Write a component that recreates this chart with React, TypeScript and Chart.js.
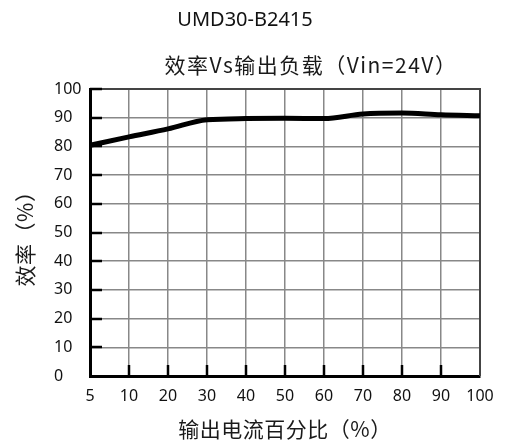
import React, { useEffect, useRef } from 'react';
import { Chart, registerables } from 'chart.js';

Chart.register(...registerables);

const chartTitle = 'UMD30-B2415';
const chartSubtitle = '效率Vs输出负载（Vin=24V）';
const xAxisTitle = '输出电流百分比（%）';
const yAxisTitle = '效率（%）';
const loadLabels = ['5', '10', '20', '30', '40', '50', '60', '70', '80', '90', '100'];
const efficiency = [80.4, 83.3, 86.1, 89.3, 89.7, 89.8, 89.7, 91.3, 91.6, 91.0, 90.7];
const yMin = 0;
const yMax = 100;
const yStep = 10;

const FONT = '"Noto Sans", "Noto Sans CJK SC", sans-serif';
const CJK_FONT = '"Noto Sans CJK SC", "Noto Sans", sans-serif';

const decorPlugin = {
  id: 'decor',
  beforeDatasetsDraw(chart: any) {
    const { ctx, chartArea } = chart;
    const { left, right, top, bottom } = chartArea;
    ctx.save();
    ctx.strokeStyle = '#444';
    ctx.lineWidth = 2;
    ctx.beginPath();
    ctx.moveTo(left, top);
    ctx.lineTo(right, top);
    ctx.lineTo(right, bottom);
    ctx.stroke();
    ctx.strokeStyle = '#000';
    ctx.lineWidth = 2.5;
    const ys = chart.scales.y;
    ys.ticks.forEach((t: any) => {
      if (t.value <= yMin) return;
      const py = Math.round(ys.getPixelForValue(t.value));
      ctx.beginPath();
      ctx.moveTo(left, py);
      ctx.lineTo(left + 12, py);
      ctx.stroke();
    });
    const xs = chart.scales.x;
    loadLabels.forEach((_l, i) => {
      if (i === 0 || i === loadLabels.length - 1) return;
      const px = Math.round(xs.getPixelForValue(i));
      ctx.beginPath();
      ctx.moveTo(px, bottom);
      ctx.lineTo(px, bottom - 11);
      ctx.stroke();
    });
    ctx.restore();
  },
  afterDraw(chart: any) {
    const { ctx, chartArea } = chart;
    const cx = (chartArea.left + chartArea.right) / 2;
    const cy = (chartArea.top + chartArea.bottom) / 2;
    ctx.save();
    ctx.textAlign = 'center';
    ctx.textBaseline = 'middle';
    ctx.fillStyle = '#111';
    ctx.font = `20px ${FONT}`;
    ctx.fillText(chartTitle, 245, 20);
    ctx.fillStyle = '#1a1a1a';
    ctx.font = `21px ${CJK_FONT}`;
    (ctx as any).letterSpacing = '1.5px';
    ctx.fillText(chartSubtitle, cx + 26, 65);
    (ctx as any).letterSpacing = '0.5px';
    ctx.fillText(xAxisTitle, cx, 429);
    ctx.translate(25, cy + 1);
    ctx.rotate(-Math.PI / 2);
    ctx.fillText(yAxisTitle, 0, 0);
    ctx.restore();
  },
};

export default function App() {
  const canvasRef = useRef<HTMLCanvasElement | null>(null);

  useEffect(() => {
    if (!canvasRef.current) return;
    const chart = new Chart(canvasRef.current, {
      type: 'line',
      data: {
        labels: loadLabels,
        datasets: [
          {
            label: 'Efficiency',
            data: efficiency,
            borderColor: '#000',
            borderWidth: 5,
            pointRadius: 0,
            tension: 0.35,
            cubicInterpolationMode: 'monotone',
            fill: false,
          },
        ],
      },
      options: {
        responsive: false,
        animation: false,
        layout: { padding: { left: 54, top: 89, right: 27, bottom: 0 } },
        plugins: {
          legend: { display: false },
          title: { display: false },
          tooltip: { enabled: false },
        },
        scales: {
          x: {
            type: 'category',
            offset: false,
            afterFit: (s: any) => {
              s.height = 67;
            },
            grid: {
              offset: false,
              color: '#888',
              lineWidth: 1.5,
              drawTicks: false,
            },
            border: { display: true, color: '#000', width: 3 },
            ticks: {
              color: '#111',
              font: { size: 16, family: FONT },
              padding: 11,
              maxRotation: 0,
              autoSkip: false,
            },
          },
          y: {
            min: yMin,
            max: yMax,
            afterFit: (s: any) => {
              s.width = 36;
            },
            grid: {
              color: '#888',
              lineWidth: 1.5,
              drawTicks: false,
            },
            border: { display: true, color: '#000', width: 3 },
            ticks: {
              stepSize: yStep,
              color: '#111',
              font: { size: 16, family: FONT },
              crossAlign: 'far',
              padding: 4,
            },
          },
        },
      },
      plugins: [decorPlugin],
    });
    return () => chart.destroy();
  }, []);

  return (
    <div style={{ position: 'absolute', left: 0, top: 0, width: 507, height: 443, background: '#fff' }}>
      <canvas ref={canvasRef} width={507} height={443} />
    </div>
  );
}
